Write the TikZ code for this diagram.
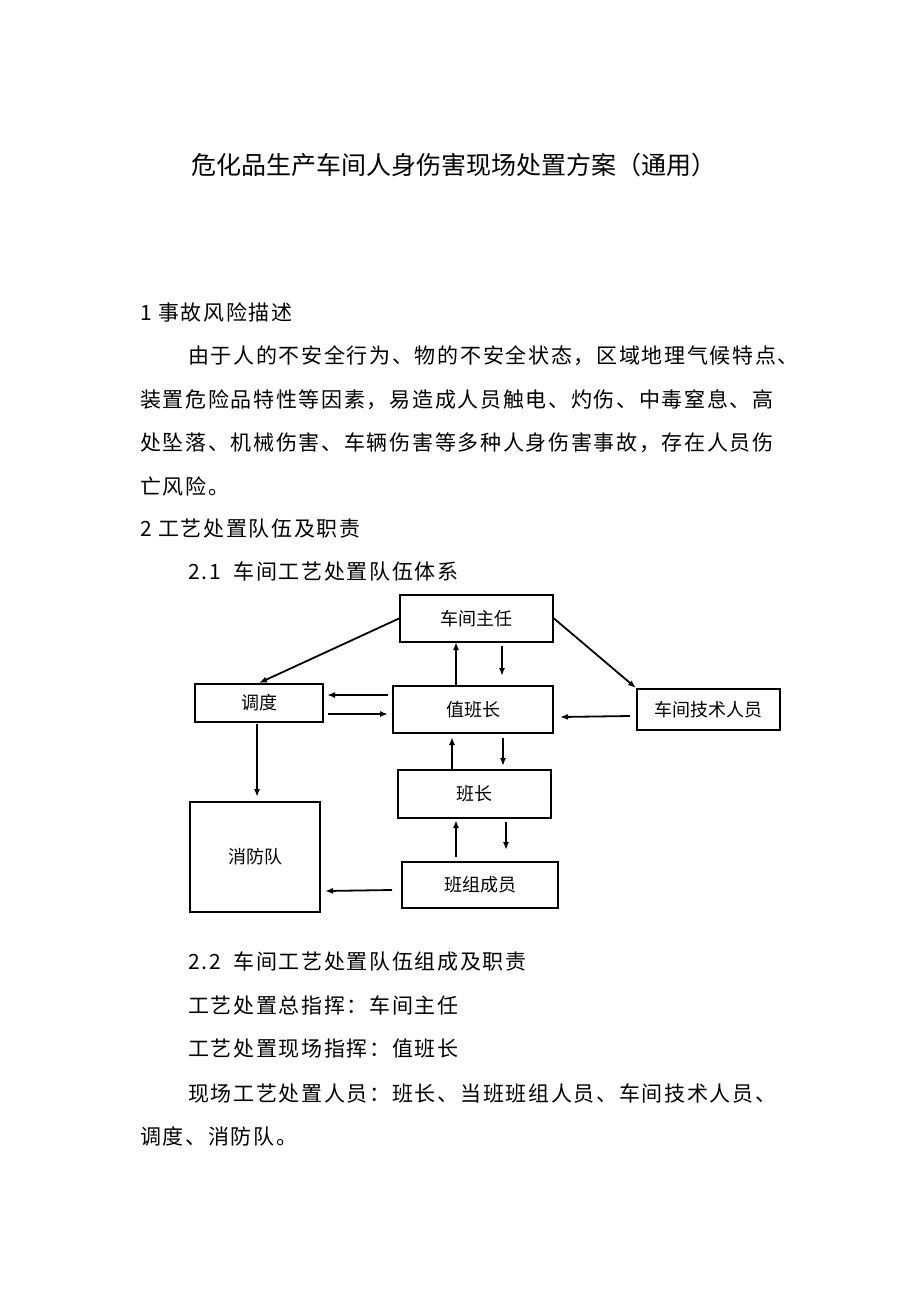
\documentclass[tikz,border=0pt]{standalone}
\usepackage{fontspec}
\usetikzlibrary{arrows.meta}
\newfontfamily\cjk[LetterSpace=8]{Noto Sans CJK SC}
\newfontfamily\cjkt{Noto Sans CJK SC}
\begin{document}
\begin{tikzpicture}[x=1pt,y=-1pt,
  bx/.style={draw,line width=2pt,inner sep=0pt},
  ar/.style={-{Latex[length=8pt,width=6pt]},line width=1.8pt},
  tx/.style={anchor=west,inner sep=0pt,font=\cjk\fontsize{21}{21}\selectfont},
  bt/.style={font=\cjkt\fontsize{18}{18}\selectfont}]
\useasboundingbox (0,0) rectangle (920,1301);
\fill[white] (0,0) rectangle (920,1301);
\node[font=\cjkt\fontsize{25}{25}\selectfont,inner sep=0pt] (title) at (454,165) {危化品生产车间人身伤害现场处置方案（通用）};
\node[tx] (l1) at (140,312) {1 事故风险描述};
\node[tx] (l2) at (188,356) {由于人的不安全行为、物的不安全状态，区域地理气候特点、};
\node[tx] (l3) at (140,400) {装置危险品特性等因素，易造成人员触电、灼伤、中毒窒息、高};
\node[tx] (l4) at (140,443) {处坠落、机械伤害、车辆伤害等多种人身伤害事故，存在人员伤};
\node[tx] (l5) at (140,486) {亡风险。};
\node[tx] (l6) at (140,529) {2 工艺处置队伍及职责};
\node[tx] (l7) at (188,571) {2.1\ \ 车间工艺处置队伍体系};
\node[tx] (l8) at (188,962) {2.2\ \ 车间工艺处置队伍组成及职责};
\node[tx] (l9) at (188,1005) {工艺处置总指挥：车间主任};
\node[tx] (l10) at (188,1049) {工艺处置现场指挥：值班长};
\node[tx] (l11) at (188,1093) {现场工艺处置人员：班长、当班班组人员、车间技术人员、};
\node[tx] (l12) at (140,1136) {调度、消防队。};

\node[bx,bt,minimum width=153pt,minimum height=47pt] (zr) at (476.5,618.5) {车间主任};
\node[bx,bt,minimum width=128pt,minimum height=38pt] (dd) at (259,703) {调度};
\node[bx,bt,minimum width=160pt,minimum height=47pt] (zb) at (473,709.5) {值班长};
\node[bx,bt,minimum width=143pt,minimum height=41pt] (js) at (708.5,709.5) {车间技术人员};
\node[bx,bt,minimum width=153pt,minimum height=48pt] (bz) at (474.5,794) {班长};
\node[bx,bt,minimum width=130pt,minimum height=110pt] (xf) at (255,857) {消防队};
\node[bx,bt,minimum width=156pt,minimum height=46pt] (bc) at (480,885) {班组成员};

\draw[ar] (zr.west) -- (dd.north);
\draw[ar] (zr.east) -- (js.north west);
\draw[ar] (456,686) -- (456,642);
\draw[ar] (502,646) -- (502,676);
\draw[ar] (388,695) -- (327,695);
\draw[ar] (328,714) -- (388,714);
\draw[ar] (630,716) -- (560,717);
\draw[ar] (257,724) -- (257,797);
\draw[ar] (452,770) -- (452,737);
\draw[ar] (503,738) -- (503,766);
\draw[ar] (456,857) -- (456,820);
\draw[ar] (506,822) -- (506,850);
\draw[ar] (392,890) -- (325,891);
\end{tikzpicture}
\end{document}
